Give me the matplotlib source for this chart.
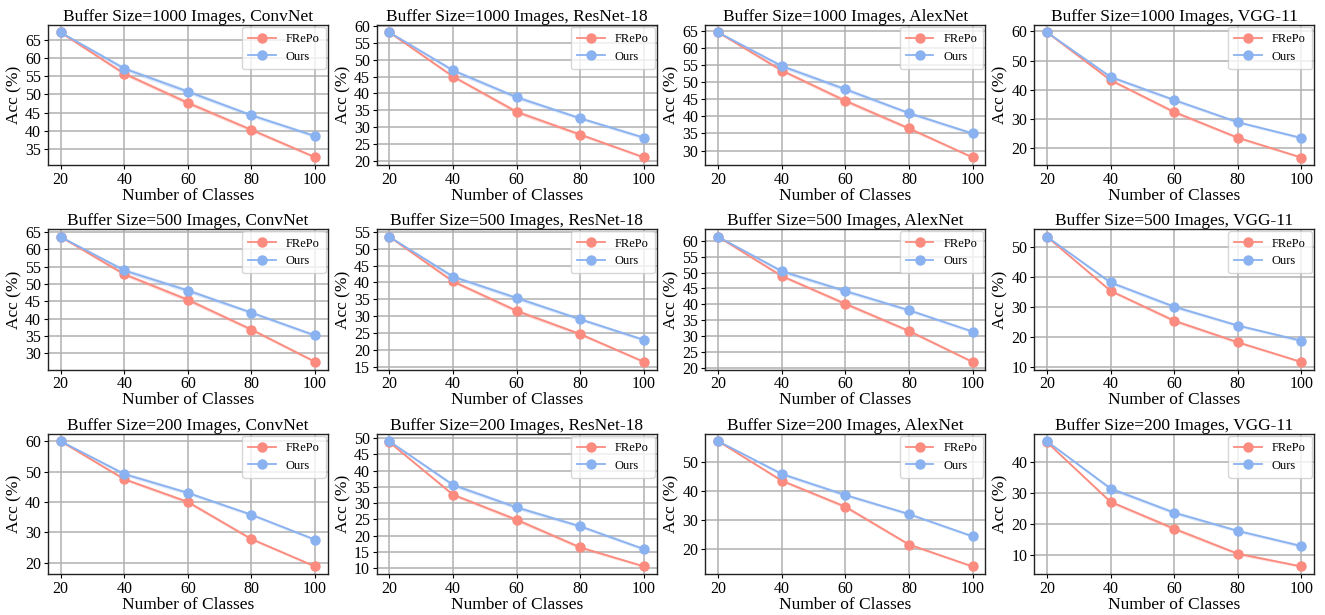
import numpy as np
import matplotlib
matplotlib.use("Agg")
import matplotlib.pyplot as plt
from matplotlib.ticker import MultipleLocator

plt.rcParams['font.family'] = ['Liberation Serif', 'DejaVu Serif']

classes = [20, 40, 60, 80, 100]
buffers = [1000, 500, 200]
models = ['ConvNet', 'ResNet-18', 'AlexNet', 'VGG-11']

# mean accuracy, rows = buffer size, cols = model
frepo_1000 = [[67.0, 55.7, 47.7, 40.3, 32.8],
              [58.0, 45.0, 34.6, 27.9, 21.2],
              [64.7, 53.5, 44.6, 36.5, 28.0],
              [59.7, 43.3, 32.4, 23.6, 16.8]]
ours_1000 = [[67.0, 57.1, 50.8, 44.3, 38.6],
             [58.0, 46.8, 38.9, 32.7, 27.0],
             [64.7, 54.8, 48.0, 41.0, 35.0],
             [59.7, 44.4, 36.5, 28.9, 23.5]]
frepo_500 = [[63.6, 52.8, 45.4, 36.8, 27.5],
             [53.5, 40.3, 31.6, 24.7, 16.5],
             [61.2, 48.9, 40.2, 31.7, 22.0],
             [53.6, 35.5, 25.5, 18.3, 11.7]]
ours_500 = [[63.6, 53.9, 48.1, 41.7, 35.1],
            [53.5, 41.7, 35.4, 29.1, 23.0],
            [61.2, 50.4, 44.2, 38.2, 31.5],
            [53.6, 38.3, 30.2, 23.9, 18.8]]
frepo_200 = [[60.0, 47.5, 40.0, 27.8, 18.8],
             [48.7, 32.6, 24.9, 16.4, 10.6],
             [57.0, 43.5, 34.6, 21.7, 14.2],
             [46.5, 27.2, 18.5, 10.4, 6.3]]
ours_200 = [[60.0, 49.2, 43.0, 35.8, 27.6],
            [49.0, 35.6, 28.7, 22.9, 15.9],
            [57.0, 45.8, 38.6, 32.1, 24.5],
            [46.8, 31.5, 23.7, 17.8, 12.9]]

# std bands (small)
frepo_std = [0.3, 0.5, 0.6, 0.5, 0.4]
ours_std = [0.3, 0.6, 0.6, 0.5, 0.5]

frepo_all = [frepo_1000, frepo_500, frepo_200]
ours_all = [ours_1000, ours_500, ours_200]

# y tick step per panel
ystep = [[5, 5, 5, 10], [5, 5, 5, 10], [10, 5, 10, 10]]

c_frepo = '#fb8b7f'
c_ours = '#8ab2f0'

fig, axes = plt.subplots(3, 4, figsize=(13.25, 6.15), dpi=100)
plt.subplots_adjust(left=48/1325, right=1314/1325, top=1-25/615, bottom=1-574/615,
                    wspace=0.175, hspace=0.46)

for r, buf in enumerate(buffers):
    for c, model in enumerate(models):
        ax = axes[r, c]
        f = np.array(frepo_all[r][c])
        o = np.array(ours_all[r][c])
        fs = np.array(frepo_std)
        os_ = np.array(ours_std)
        ax.fill_between(classes, f - fs, f + fs, color=c_frepo, alpha=0.3, lw=0)
        ax.plot(classes, f, '-o', color=c_frepo, lw=1.3, ms=6.5, label='FRePo')
        ax.fill_between(classes, o - os_, o + os_, color=c_ours, alpha=0.3, lw=0)
        ax.plot(classes, o, '-o', color=c_ours, lw=1.3, ms=6.5, label='Ours')
        ax.set_xticks(classes)
        ax.yaxis.set_major_locator(MultipleLocator(ystep[r][c]))
        ax.grid(True, color='#b0b0b0', lw=1.1)
        ax.set_axisbelow(True)
        ax.set_title(f'Buffer Size={buf} Images, {model}', fontsize=12.5, pad=2)
        ax.set_xlabel('Number of Classes', fontsize=12.5, labelpad=0)
        ax.set_ylabel('Acc (%)', fontsize=12.5, labelpad=2)
        ax.tick_params(labelsize=11.5, pad=2, length=3)
        for s in ax.spines.values():
            s.set_color('#222222')
            s.set_linewidth(1)
        ax.legend(loc='upper right', fontsize=9, framealpha=0.8, borderpad=0.5,
                  handlelength=2.2, labelspacing=0.45, borderaxespad=0.15)

fig.savefig('out.png', dpi=100)
